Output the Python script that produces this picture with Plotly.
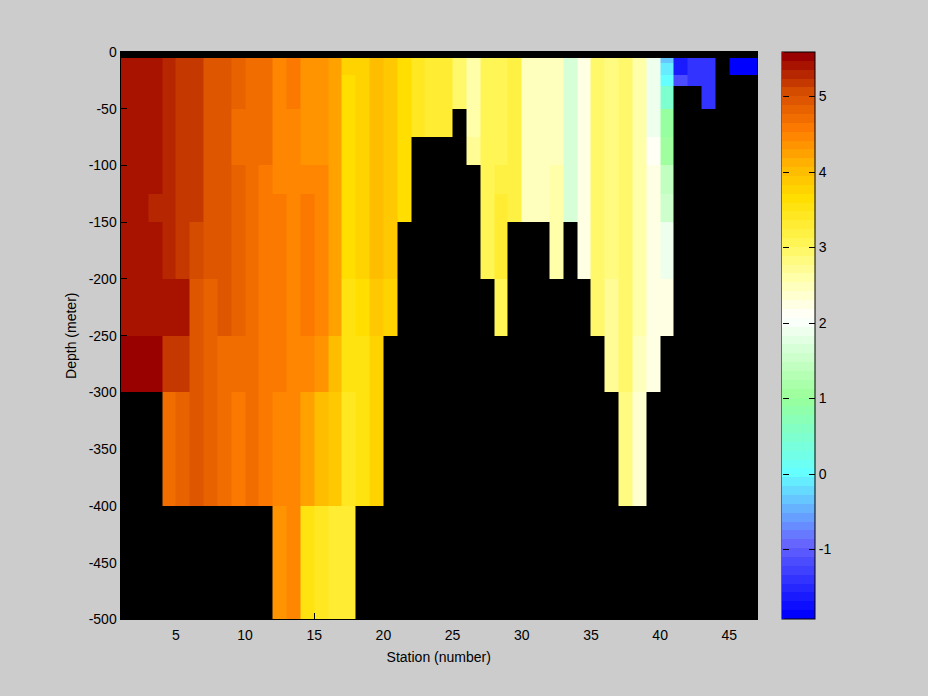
import numpy as np
import plotly.graph_objects as go

n = None
station_edges = list(range(1, 48))
depth_edges = [0, -5, -10, -20, -30, -50, -75, -100, -125, -150, -200, -250, -300, -400, -500]
x_ticks = [5, 10, 15, 20, 25, 30, 35, 40, 45]
y_ticks = [0, -50, -100, -150, -200, -250, -300, -350, -400, -450, -500]
y_labels = ["0", "-50", "-100", "-150", "-200", "-250", "-300", "-350", "-400", "-450", "-500"]
c_ticks = [-1, 0, 1, 2, 3, 4, 5]
c_labels = ["-1", "0", "1", "2", "3", "4", "5"]
c_min, c_max = -1.92, 5.59

# temperature at each station from -5 m downward; missing cells below the sea floor
st01 = [5.42]*10 + [5.58]
st02 = [5.42]*10 + [5.58]
st03 = [5.42]*7 + [5.3, 5.42, 5.42, 5.58]
st04 = [5.3]*9 + [5.4, 5.2, 4.7]
st05 = [5.2]*9 + [5.4, 5.2, 4.85]
st06 = [5.2]*8 + [5.08, 4.98, 4.98, 4.98]
st07 = [4.98]*9 + [4.85, 4.85, 4.85]
st08 = [4.98]*10 + [4.75, 4.7]
st09 = [4.85]*4 + [4.7, 4.7] + [4.85]*4 + [4.7, 4.55]
st10 = [4.7]*12
st11 = [4.7]*6 + [4.55]*4 + [4.65, 4.55]
st12 = [4.45]*7 + [4.55]*4 + [4.45, 4.3]
st13 = [4.55]*4 + [4.45]*8 + [4.45]
st14 = [4.32]*6 + [4.45, 4.55, 4.55, 4.55, 4.45, 4.2, 3.55]
st15 = [4.32]*6 + [4.45]*4 + [4.3, 3.95, 3.42]
st16 = [4.2]*10 + [4.0, 3.85, 3.28]
st17 = [3.78]*2 + [3.62]*7 + [3.52, 3.52, 3.4, 3.28]
st18 = [3.72]*9 + [3.62, 3.52, 3.52]
st19 = [4.0]*9 + [3.88, 3.72, 3.72]
st20 = [3.85]*9 + [3.72]
st21 = [3.7]*8
st22 = [3.42]*5
st23 = [3.32]*5
st24 = [3.28]*5
st25 = [2.95]*4
st26 = [2.55]*5 + [2.68]
st27 = [3.05]*9
st28 = [3.12]*6 + [3.22, 3.32, 3.32, 3.08]
st29 = [3.2]*8
st30 = [2.52]*8
st31 = [2.52]*8
st32 = [2.52]*6 + [2.65]*3
st33 = [1.65]*8
st34 = [2.25]*9
st35 = [3.0]*6 + [2.95]*4
st36 = [2.78]*9 + [2.72, 2.72]
st37 = [2.95]*11 + [2.82]
st38 = [2.58]*10 + [2.5, 2.4]
st39 = [1.85]*3 + [1.95]*2 + [2.1] + [2.2]*4 + [2.25]
st40 = [-0.3, -0.15, 0.0, 0.45, 0.95, 1.05, 1.4, 1.55, 1.85, 2.25]
st41 = [-1.65, -1.65, -1.2]
st42 = [-1.45]*3
st43 = [-1.45]*4
st44 = []
st45 = [-1.85]*2
st46 = [-1.85]*2

stations = [st01, st02, st03, st04, st05, st06, st07, st08, st09, st10, st11, st12,
            st13, st14, st15, st16, st17, st18, st19, st20, st21, st22, st23, st24,
            st25, st26, st27, st28, st29, st30, st31, st32, st33, st34, st35, st36,
            st37, st38, st39, st40, st41, st42, st43, st44, st45, st46]

n_rows = len(depth_edges) - 1
z = [[n] * len(stations) for _ in range(n_rows)]
for col, values in enumerate(stations):
    for row, v in enumerate(values):
        z[row + 1][col] = v

# 64-step colormap, anchored on colours
anchors = [(0, (0, 0, 255)), (8, (102, 102, 255)), (16, (102, 255, 255)),
           (24.5, (153, 255, 153)), (33.5, (255, 255, 255)), (38, (255, 255, 170)),
           (42, (255, 245, 85)), (47, (255, 222, 0)), (50.4, (255, 185, 0)),
           (54.6, (255, 125, 0)), (59, (212, 76, 0)), (63, (153, 0, 0))]
idx = [a[0] for a in anchors]
colorscale = []
for i in range(64):
    rgb = [int(round(np.interp(i, idx, [a[1][k] for a in anchors]))) for k in range(3)]
    col = f"rgb({rgb[0]},{rgb[1]},{rgb[2]})"
    colorscale += [[i / 64, col], [(i + 1) / 64, col]]

W, H = 928, 696
L, R, T, B = 120.5, 757, 52, 619.4
font = dict(family="Liberation Sans, Arial, sans-serif", size=14, color="black")

fig = go.Figure()
fig.add_trace(go.Heatmap(
    x=station_edges, y=depth_edges, z=z, zmin=c_min, zmax=c_max,
    colorscale=colorscale, hoverongaps=False,
    colorbar=dict(
        x=781.5 / W, xanchor="left", y=1 - T / H, yanchor="top",
        lenmode="pixels", len=B - T, thicknessmode="pixels", thickness=32.5,
        xpad=0, ypad=0, outlinecolor="black", outlinewidth=1,
        tickmode="array", tickvals=c_ticks, ticktext=c_labels,
        ticks="inside", ticklen=6, tickcolor="black", tickwidth=1,
        tickfont=font),
))
# second, zero-width colour bar: only its ticks show, on the left edge of the bar
fig.add_trace(go.Scatter(
    x=[None], y=[None], mode="markers", hoverinfo="skip",
    marker=dict(color=[0], cmin=c_min, cmax=c_max, colorscale=colorscale, showscale=True,
                colorbar=dict(
                    x=781.5 / W, xanchor="left", y=1 - T / H, yanchor="top",
                    lenmode="pixels", len=B - T, thicknessmode="pixels", thickness=1,
                    xpad=0, ypad=0, outlinewidth=0,
                    tickmode="array", tickvals=c_ticks, ticktext=[""] * len(c_ticks),
                    ticks="outside", ticklen=6, tickcolor="black", tickwidth=1)),
))

fig.update_layout(
    width=W, height=H, paper_bgcolor="rgb(204,204,204)", plot_bgcolor="black",
    margin=dict(l=0, r=0, t=0, b=0, autoexpand=False), font=font, showlegend=False,
    xaxis=dict(domain=[L / W, R / W], range=[1, 47], tickmode="array", tickvals=x_ticks,
               ticks="inside", ticklen=6, tickcolor="black", showgrid=False, zeroline=False,
               showline=True, linecolor="black", mirror=True, automargin=True,
               ticklabelstandoff=3,
               title=dict(text="Station (number)", standoff=9, font=font), tickfont=font),
    yaxis=dict(domain=[1 - B / H, 1 - T / H], range=[-500, 0], tickmode="array",
               tickvals=y_ticks, ticktext=y_labels, ticks="inside", ticklen=6, tickcolor="black",
               showgrid=False, zeroline=False, showline=True, linecolor="black", mirror=True,
               automargin=True,
               title=dict(text="Depth (meter)", standoff=8, font=font), tickfont=font),
)
fig.write_html("out.html", config=dict(displayModeBar=False),
               post_script="document.body.style.margin='0';document.body.style.overflow='hidden';")
